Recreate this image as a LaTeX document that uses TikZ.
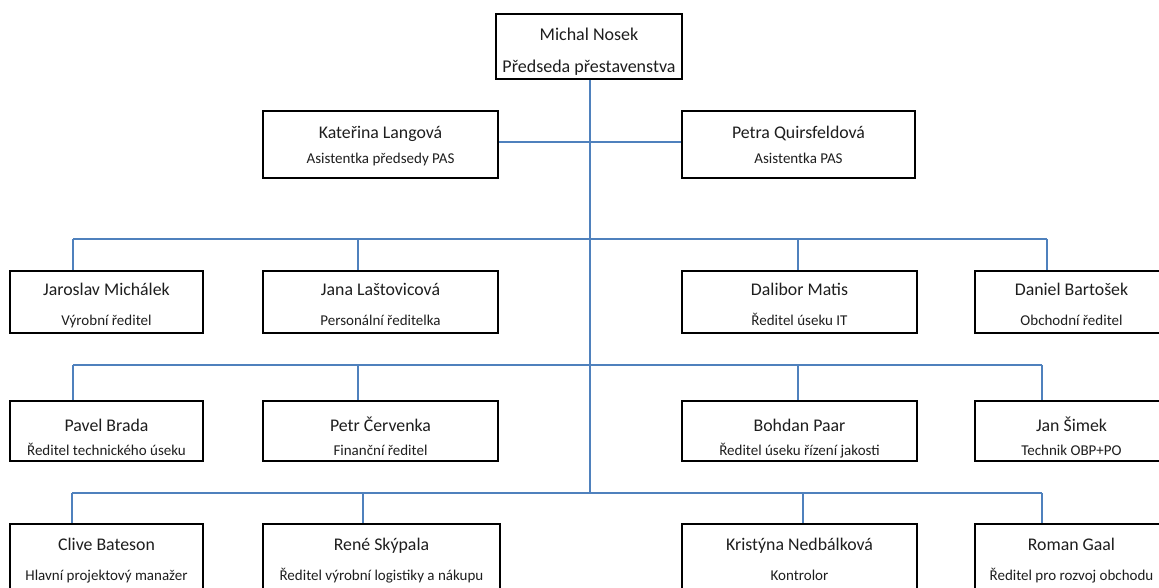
\documentclass[tikz,border=0pt]{standalone}
\usepackage{fontspec}
\setmainfont{Carlito}
\usetikzlibrary{calc}
\definecolor{lineblue}{RGB}{79,129,189}
\definecolor{txt}{RGB}{30,30,30}
\tikzset{
  box/.style={draw=black, line width=2.4pt, fill=white, inner sep=0pt, rectangle, anchor=north},
  nm/.style={font=\fontsize{17.8}{21}\selectfont, anchor=base, inner sep=0pt, text=txt},
  rl/.style={font=\fontsize{15}{18}\selectfont, anchor=base, inner sep=0pt, text=txt},
  tp/.style={font=\fontsize{18}{21}\selectfont, anchor=base, inner sep=0pt, text=txt},
  conn/.style={draw=lineblue, line width=1.3pt}
}
% id, cx, top, w, h, nameoff, roleoff, name, role
\newcommand\orgbox[9]{%
  \node[box, minimum width=#4pt, minimum height=#5pt] (#1) at (#2,#3) {};
  \node[nm] (#1-n) at ($(#1.north)+(0,#6)$) {#8};
  \node[rl] (#1-r) at ($(#1.north)+(0,#7)$) {#9};
}
\begin{document}
\begin{tikzpicture}[x=1pt,y=-1pt]
\useasboundingbox (0,0) rectangle (1159,587);
\clip (0,0) rectangle (1159,587);

% bus coordinates
\coordinate (trunk-top) at (590,78);
\coordinate (b2-l) at (73,239);
\coordinate (b2-a) at (358,239);
\coordinate (b2-b) at (798,239);
\coordinate (b2-r) at (1047,239);
\coordinate (b3-l) at (73,365);
\coordinate (b3-a) at (358,365);
\coordinate (b3-b) at (798,365);
\coordinate (b3-r) at (1042,365);
\coordinate (b4-l) at (72,493);
\coordinate (b4-a) at (363,493);
\coordinate (b4-b) at (803,493);
\coordinate (b4-r) at (1042,493);
\coordinate (trunk-bot) at (590,493);

% connectors (drawn first, boxes on top)
\path[conn] (590,78) -- (trunk-bot);
\path[conn] (b2-l) -- (b2-r);
\path[conn] (b3-l) -- (b3-r);
\path[conn] (b4-l) -- (b4-r);
\path[conn] (380,142) -- (800,142);
\foreach \c/\t in {b2-l/270,b2-a/270,b2-b/270,b2-r/270,b3-l/400,b3-a/400,b3-b/400,b3-r/400,b4-l/523,b4-a/523,b4-b/523,b4-r/523}{
  \path[conn] (\c) -- (\c |- 0,\t);
}

% top
\node[box, minimum width=186pt, minimum height=65pt] (mn) at (589,13) {};
\node[tp] (mn-n) at ($(mn.north)+(0,27)$) {Michal Nosek};
\node[tp] (mn-r) at ($(mn.north)+(0,59)$) {Předseda přestavenstva};

% assistants
\orgbox{kl}{380.5}{110}{235}{67}{28}{53}{Kateřina Langová}{Asistentka předsedy PAS}
\orgbox{pq}{798.5}{110}{233}{67}{28}{53}{Petra Quirsfeldová}{Asistentka PAS}

% row 2
\orgbox{jm}{106.5}{270}{193}{62}{25}{55}{Jaroslav Michálek}{Výrobní ředitel}
\orgbox{jl}{380.5}{270}{235}{62}{25}{55}{Jana Laštovicová}{Personální ředitelka}
\orgbox{dm}{799.5}{270}{235}{62}{25}{55}{Dalibor Matis}{Ředitel úseku IT}
\orgbox{db}{1071.5}{270}{193}{62}{25}{55}{Daniel Bartošek}{Obchodní ředitel}

% row 3
\orgbox{pb}{106.5}{400}{193}{60}{31}{55}{Pavel Brada}{Ředitel technického úseku}
\orgbox{pc}{380.5}{400}{235}{60}{31}{55}{Petr Červenka}{Finanční ředitel}
\orgbox{bp}{799.5}{400}{235}{60}{31}{55}{Bohdan Paar}{Ředitel úseku řízení jakosti}
\orgbox{js}{1071.5}{400}{193}{60}{31}{55}{Jan Šimek}{Technik OBP+PO}

% row 4
\orgbox{cb}{106.5}{523}{193}{75}{27}{57}{Clive Bateson}{Hlavní projektový manažer}
\orgbox{rs}{381.5}{523}{237}{75}{27}{57}{René Skýpala}{Ředitel výrobní logistiky a nákupu}
\orgbox{kn}{799.5}{523}{235}{75}{27}{57}{Kristýna Nedbálková}{Kontrolor}
\orgbox{rg}{1071.5}{523}{193}{75}{27}{57}{Roman Gaal}{Ředitel pro rozvoj obchodu}
\end{tikzpicture}
\end{document}
